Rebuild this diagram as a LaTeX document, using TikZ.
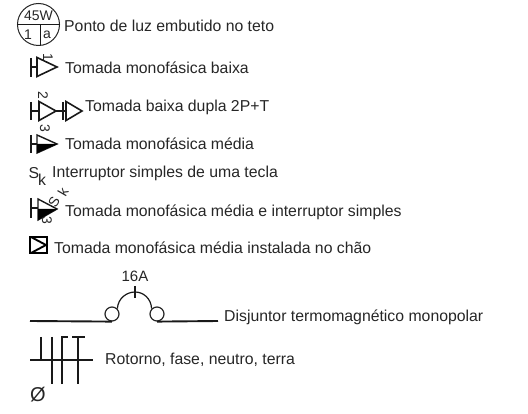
\documentclass[tikz,border=0pt]{standalone}
\usepackage{fontspec}
\setmainfont{Liberation Sans}
\tikzset{
  lbl/.style={anchor=west,inner sep=0pt,yshift=-1.5pt,font=\fontsize{15.8}{18}\selectfont,text=black!85},
  sym/.style={inner sep=0pt,font=\fontsize{15.8}{18}\selectfont,text=black!85},
  small/.style={inner sep=0pt,font=\fontsize{14}{16}\selectfont,text=black!85},
  wire/.style={draw=black!90,line width=1.4pt},
  heavy/.style={draw=black,line width=1.9pt}
}
\begin{document}
\begin{tikzpicture}[x=1pt,y=-1pt]
\useasboundingbox (0,0) rectangle (528,414);
% lamp
\node[circle,draw=black!85,line width=1pt,minimum size=42pt,inner sep=0pt] (lamp) at (38.5,24.5) {};
\draw[wire,line width=1pt] (lamp.west) -- (lamp.east);
\draw[wire,line width=1pt] (40,24.5) -- (40,45);
\node[small] (w) at (38.5,15.5) {45W};
\node[small] (n1) at (28,35) {1};
\node[small] (na) at (47,35) {a};
\node[lbl] (t1) at (64,24) {Ponto de luz embutido no teto};
% low socket
\draw[wire] (31,58) -- (31,77) (31,67) -- (37,67);
\draw[wire,line width=1.6pt] (37,57.5) -- (57,67) -- (37,76.5) -- cycle;
\node[small,rotate=-90] (s1) at (48,57) {1};
\node[lbl] (t2) at (65,66.5) {Tomada monofásica baixa};
% double
\draw[wire] (31,102) -- (31,120) (31,111) -- (39,111);
\draw[wire,line width=1.6pt] (39,101.5) -- (56,111) -- (39,120.5) -- cycle;
\draw[wire] (56,111) -- (66,111) (63,102) -- (63,120);
\draw[wire,line width=1.6pt] (66,101.5) -- (82,111) -- (66,120.5) -- cycle;
\node[small,rotate=-90] (s2) at (43,95) {2};
\node[lbl] (t3) at (85,106) {Tomada baixa dupla 2P+T};
% medium
\draw[wire] (31,135) -- (31,153) (31,144) -- (37,144);
\draw[wire] (37,135) -- (57,144) -- (37,153) -- cycle;
\fill[black] (37,144) -- (57,144) -- (37,153) -- cycle;
\node[small,rotate=-90] (s3) at (45,128) {3};
\node[lbl] (t4) at (65,142.5) {Tomada monofásica média};
% switch
\node[sym] (S) at (34,173) {S};
\node[sym] (k) at (42,180) {k};
\node[lbl] (t5) at (52,172) {Interruptor simples de uma tecla};
% medium + switch
\draw[wire] (31,198) -- (31,218) (31,208) -- (38,208);
\draw[wire] (38,199) -- (57,209) -- (38,220) -- cycle;
\fill[black] (38,209) -- (57,209) -- (38,220) -- cycle;
\node[small,rotate=-90] (s4) at (47,220) {3};
\node[small,rotate=60] (s5) at (54,202) {S};
\node[small,rotate=60] (s6) at (63,192) {k};
\node[lbl] (t6) at (65,210.5) {Tomada monofásica média e interruptor simples};
% floor socket
\draw[heavy] (30,237) rectangle (47,253);
\draw[heavy] (31,237) -- (46,245) -- (31,253);
\node[lbl] (t7) at (54,246.5) {Tomada monofásica média instalada no chão};
% breaker
\node[circle,draw=black!85,line width=1.2pt,minimum size=14pt,inner sep=0pt] (c1) at (112,314) {};
\node[circle,draw=black!85,line width=1.2pt,minimum size=14pt,inner sep=0pt] (c2) at (157,314) {};
\coordinate (b0) at (30,321);
\coordinate (b1) at (218,321);
\draw[wire,line width=1.9pt] (b0) -- (c1.south);
\draw[wire,line width=1.9pt] (c2.south) -- (b1);
\draw[wire,line width=1.2pt] (c1.north east) .. controls (118,298) and (127,292) .. (135,292) .. controls (143,292) and (151,298) .. (c2.north west);
\draw[wire,line width=1.1pt] (135,286) -- (135,298);
\node[sym,font=\fontsize{15}{17}\selectfont] (a16) at (135,276) {16A};
\node[lbl] (t8) at (224,315.5) {Disjuntor termomagnético monopolar};
% wires
\draw[wire] (30,360) -- (93,360);
\draw[wire] (41,337) -- (41,360);
\draw[wire] (52,337) -- (52,384);
\draw[wire] (62,384) -- (62,337) -- (68,337);
\draw[wire] (78,337) -- (78,384);
\draw[wire] (72,337) -- (85,337);
\node[sym,font=\fontsize{20}{22}\selectfont] (phi) at (38,395) {Ø};
\node[lbl] (t9) at (105,358) {Rotorno, fase, neutro, terra};
\end{tikzpicture}
\end{document}
